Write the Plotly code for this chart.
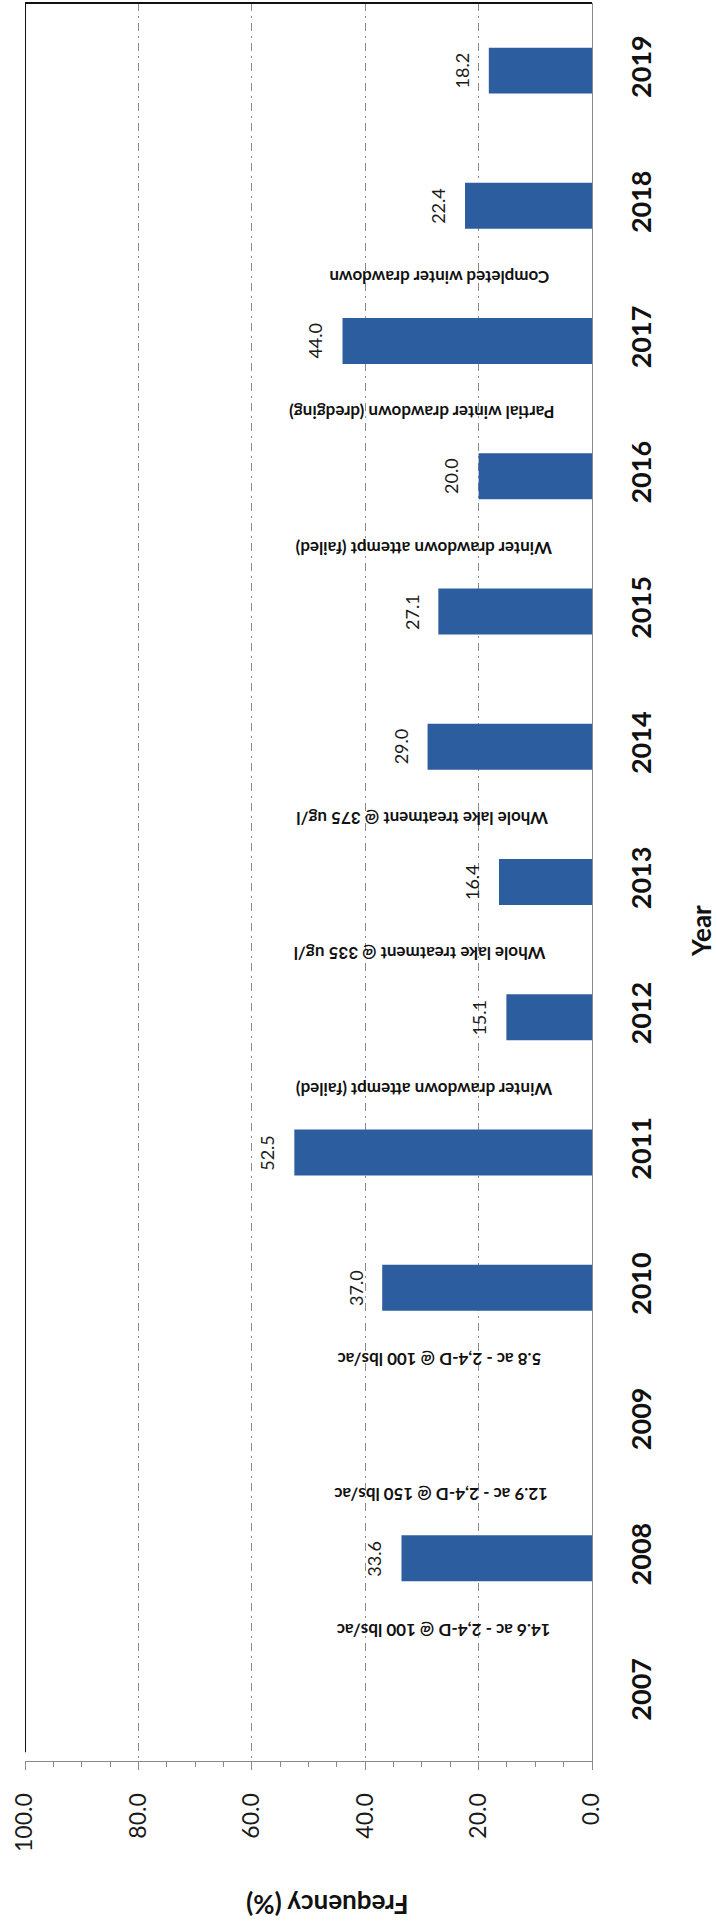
import plotly.graph_objects as go

years = [2007, 2008, 2009, 2010, 2011, 2012, 2013, 2014, 2015, 2016, 2017, 2018, 2019]
frequency = [None, 33.6, None, 37.0, 52.5, 15.1, 16.4, 29.0, 27.1, 20.0, 44.0, 22.4, 18.2]

events = [
    "14.6 ac - 2,4-D @ 100 lbs/ac",
    "12.9 ac - 2,4-D @ 150 lbs/ac",
    "5.8 ac - 2,4-D @ 100 lbs/ac",
    "Winter drawdown attempt (failed)",
    "Whole lake treatment @ 335 ug/l",
    "Whole lake treatment @ 375 ug/l",
    "Winter drawdown attempt (failed)",
    "Partial winter drawdown (dredging)",
    "Completed winter drawdown",
]
event_after_year = [2007, 2008, 2009, 2011, 2012, 2013, 2015, 2016, 2017]
event_text_end = [7.0, 7.4, 8.6, 6.6, 7.9, 7.4, 6.8, 6.3, 7.2]

freq_ticks = [0, 20, 40, 60, 80, 100]

FONT = "Lato"
BAR = "#2c5d9e"
GRAY = "#8a8a8a"

fig = go.Figure()
fig.add_trace(go.Bar(
    x=frequency, y=years, orientation="h",
    marker=dict(color=BAR, line=dict(width=0)),
    hoverinfo="skip",
))

annotations = []
for yv, fv in zip(years, frequency):
    if fv is None:
        continue
    annotations.append(dict(
        x=fv, y=yv, xref="x", yref="y", text=f"{fv:.1f}", showarrow=False,
        textangle=-90, xanchor="right", yanchor="middle", xshift=-14,
        font=dict(family=FONT, size=18, color="#1a1a1a"),
    ))
for txt, yr, xe in zip(events, event_after_year, event_text_end):
    annotations.append(dict(
        x=xe, y=yr + 0.5, xref="x", yref="y", text=txt, showarrow=False,
        textangle=180, xanchor="right", yanchor="middle", yshift=-4,
        font=dict(family=FONT, size=17, color="#111111", weight="bold"),
    ))
annotations.append(dict(
    x=46.7, y=-0.082, xref="x", yref="paper", text="Frequency (%)", showarrow=False,
    textangle=180, xanchor="center", yanchor="middle",
    font=dict(family=FONT, size=26, color="#111111", weight="bold"),
))
annotations.append(dict(
    x=1.1934, y=0.472, xref="paper", yref="paper", text="Year", showarrow=False,
    textangle=-90, xanchor="center", yanchor="middle",
    font=dict(family=FONT, size=26, color="#111111", weight="bold"),
))

fig.update_layout(
    width=717, height=1928,
    margin=dict(l=25, r=125, t=3, b=167),
    paper_bgcolor="white", plot_bgcolor="white",
    showlegend=False, bargap=0.66,
    annotations=annotations,
    shapes=[
        dict(type="line", xref="x", yref="paper", x0=100, x1=100, y0=0.005, y1=1,
             line=dict(color="#111111", width=2)),
        dict(type="line", xref="paper", yref="paper", x0=0, x1=1, y0=1, y1=1,
             line=dict(color="#111111", width=2)),
    ],
)
fig.update_xaxes(
    range=[100, 0], tickvals=freq_ticks, ticktext=[f"{v:.1f}" for v in freq_ticks],
    tickangle=-90, ticks="outside", ticklen=8, tickcolor=GRAY, tickwidth=1,
    ticklabelstandoff=14,
    tickfont=dict(family=FONT, size=23, color="#1a1a1a"),
    showline=True, linecolor=GRAY, linewidth=1,
    showgrid=True, gridcolor=GRAY, gridwidth=1, griddash="8px,5px,2px,5px",
    zeroline=False,
    minor=dict(dtick=5, ticks="outside", ticklen=5, tickcolor=GRAY, showgrid=False),
)
fig.update_yaxes(
    range=[2006.5, 2019.5], tickvals=years, ticktext=[str(y) for y in years],
    side="right", tickangle=-90, ticks="",
    ticklabelstandoff=26,
    tickfont=dict(family=FONT, size=27, color="#111111", weight="bold"),
    showline=True, linecolor=GRAY, linewidth=1,
    showgrid=False, zeroline=False,
)

fig.write_html("out.html")
